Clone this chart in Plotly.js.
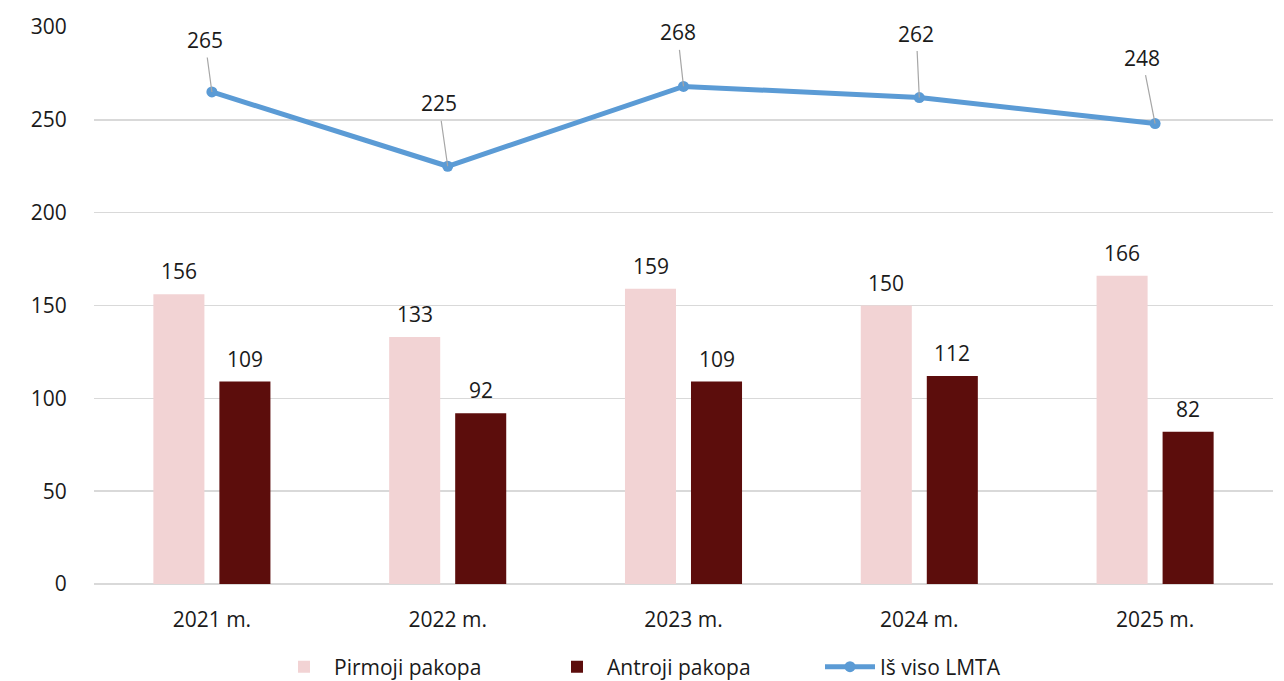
<!DOCTYPE html>
<html>
<head>
<meta charset="utf-8">
<script src="https://cdn.plot.ly/plotly-3.0.1.min.js"></script>
<style>html,body{margin:0;padding:0;background:#fff;}#chart{width:1284px;height:681px;}</style>
</head>
<body>
<div id="chart"></div>
<script>
const categories = ["2021 m.", "2022 m.", "2023 m.", "2024 m.", "2025 m."];
const pirmoji = [156, 133, 159, 150, 166];
const antroji = [109, 92, 109, 112, 82];
const lmta = [265, 225, 268, 262, 248];
const seriesNames = ["Pirmoji pakopa", "Antroji pakopa", "Iš viso LMTA"];
const yTicks = [0, 50, 100, 150, 200, 250, 300];

const FONT = "'Open Sans', sans-serif";
const TXT = "#1a1a1a";
const FS = 21;

const traces = [
  {type: "bar", name: seriesNames[0], x: categories, y: pirmoji,
   marker: {color: "#F2D3D4"}, hoverinfo: "skip"},
  {type: "bar", name: seriesNames[1], x: categories, y: antroji,
   marker: {color: "#5C0D0C"}, hoverinfo: "skip"},
  {type: "scatter", mode: "lines+markers", name: seriesNames[2], x: categories, y: lmta,
   line: {color: "#5B9BD5", width: 5}, marker: {color: "#5B9BD5", size: 11}, hoverinfo: "skip"}
];

const annotations = [];
const lineOffsets = [[-7, -52], [-9, -63], [-6, -54], [-3, -64], [-13, -66]];
categories.forEach((c, i) => {
  annotations.push({x: c, y: pirmoji[i], xref: "x", yref: "y", text: String(pirmoji[i]),
    showarrow: false, xshift: -33, yshift: 7, yanchor: "bottom",
    font: {family: FONT, size: FS, color: TXT}});
  annotations.push({x: c, y: antroji[i], xref: "x", yref: "y", text: String(antroji[i]),
    showarrow: false, xshift: 33, yshift: 7, yanchor: "bottom",
    font: {family: FONT, size: FS, color: TXT}});
  annotations.push({x: c, y: lmta[i], xref: "x", yref: "y", text: String(lmta[i]),
    showarrow: true, arrowhead: 0, arrowwidth: 1.2, arrowcolor: "#A6A6A6",
    ax: lineOffsets[i][0], ay: lineOffsets[i][1], standoff: 0, startstandoff: 2,
    font: {family: FONT, size: FS, color: TXT}});
});

const layout = {
  width: 1284, height: 681,
  margin: {l: 94, r: 11, t: 27, b: 97, autoexpand: false},
  paper_bgcolor: "#fff", plot_bgcolor: "#fff",
  font: {family: FONT, size: FS, color: TXT},
  barmode: "group", bargap: 0.44, bargroupgap: 0.227,
  showlegend: true,
  legend: {orientation: "h", x: 0.5, xanchor: "center", y: -0.149, yanchor: "middle",
    font: {family: FONT, size: FS, color: TXT}, itemwidth: 50, entrywidth: 208, traceorder: "normal"},
  xaxis: {type: "category", showgrid: false, zeroline: false, showline: false, automargin: false,
    ticks: "outside", ticklen: 17, tickcolor: "rgba(0,0,0,0)",
    tickfont: {family: FONT, size: FS, color: TXT}},
  yaxis: {range: [0, 300], tickvals: yTicks, showgrid: true, gridcolor: "#D9D9D9", gridwidth: 1.5,
    zeroline: true, zerolinecolor: "#D9D9D9", zerolinewidth: 1.5, showline: false, automargin: false,
    ticks: "outside", ticklen: 22, tickcolor: "rgba(0,0,0,0)",
    tickfont: {family: FONT, size: FS, color: TXT}},
  annotations: annotations
};

Plotly.newPlot("chart", traces, layout, {displayModeBar: false, staticPlot: true});
</script>
</body>
</html>
